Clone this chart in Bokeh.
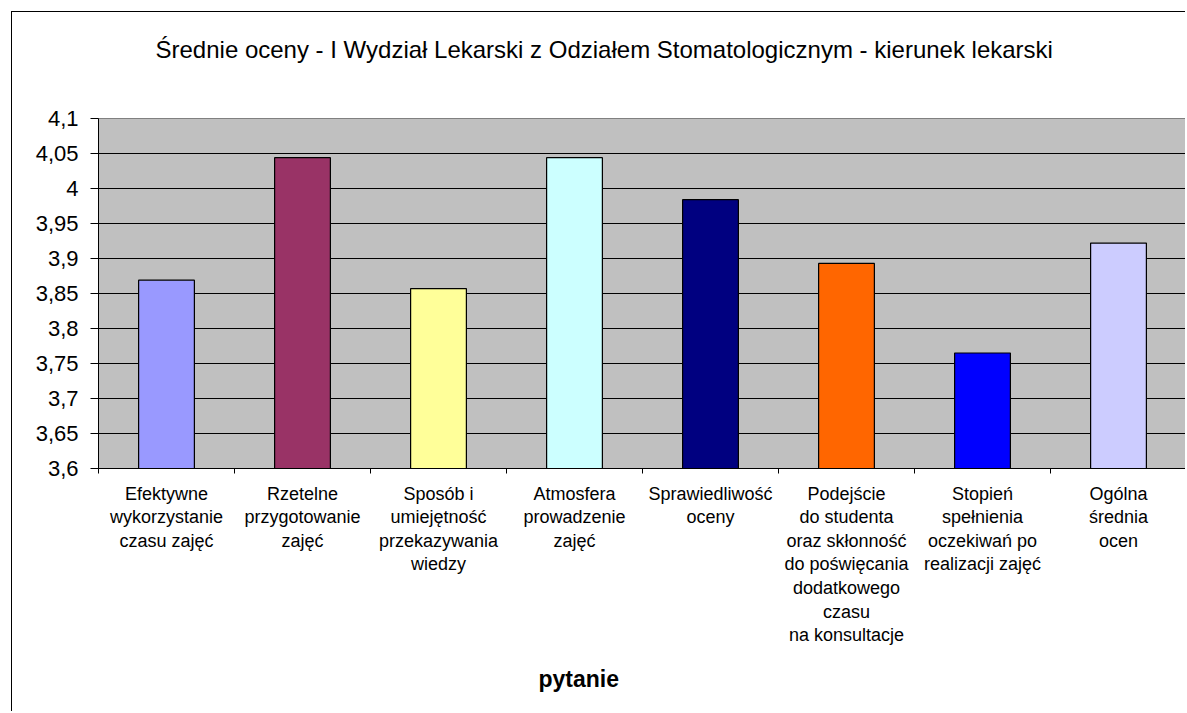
from bokeh.plotting import figure
from bokeh.models import FixedTicker, Title, ColumnDataSource, Range1d
from bokeh.embed import file_html
from bokeh.resources import INLINE

# ---- data ----
categories = [
    "Efektywne\nwykorzystanie\nczasu zajęć",
    "Rzetelne\nprzygotowanie\nzajęć",
    "Sposób i\numiejętność\nprzekazywania\nwiedzy",
    "Atmosfera\nprowadzenie\nzajęć",
    "Sprawiedliwość\noceny",
    "Podejście\ndo studenta\noraz skłonność\ndo poświęcania\ndodatkowego\nczasu\nna konsultacje",
    "Stopień\nspełnienia\noczekiwań po\nrealizacji zajęć",
    "Ogólna\nśrednia\nocen",
]
values = [3.869, 4.044, 3.857, 4.044, 3.984, 3.893, 3.765, 3.922]
colors = ["#9999FF", "#993366", "#FFFF99", "#CCFFFF", "#000080", "#FF6600", "#0000FF", "#CCCCFF"]
y_ticks = [3.6, 3.65, 3.7, 3.75, 3.8, 3.85, 3.9, 3.95, 4.0, 4.05, 4.1]
y_tick_labels = ["3,6", "3,65", "3,7", "3,75", "3,8", "3,85", "3,9", "3,95", "4", "4,05", "4,1"]
title_text = "Średnie oceny - I Wydział Lekarski z Odziałem Stomatologicznym - kierunek lekarski"
x_label = "pytanie"

FONT = "Liberation Sans"
n = len(categories)
xs = [i + 0.5 for i in range(n)]

p = figure(width=1174, height=700,
           x_range=Range1d(0, n), y_range=Range1d(y_ticks[0], y_ticks[-1]),
           output_backend="svg", toolbar_location=None,
           min_border_left=86, min_border_right=0,
           min_border_top=106, min_border_bottom=244)
p.margin = (11, 0, 0, 11)
p.styles = {"border-left": "1px solid black", "border-top": "1px solid black",
            "box-sizing": "border-box"}

p.background_fill_color = "#C0C0C0"
p.border_fill_color = "white"
p.outline_line_color = "#808080"
p.outline_line_width = 1

src = ColumnDataSource(dict(x=xs, top=values, color=colors))
p.vbar(x="x", top="top", bottom=y_ticks[0], width=0.41, source=src,
       fill_color="color", line_color="black", line_width=1.2)

# grid
p.xgrid.visible = False
p.ygrid.ticker = FixedTicker(ticks=y_ticks)
p.ygrid.grid_line_color = "black"
p.ygrid.grid_line_width = 1

# y axis
yax = p.yaxis[0]
yax.ticker = FixedTicker(ticks=y_ticks)
yax.major_label_overrides = {t: l for t, l in zip(y_ticks, y_tick_labels)}
yax.major_label_text_font = FONT
yax.major_label_text_font_size = "22px"
yax.major_label_text_color = "black"
yax.major_tick_out = 8
yax.major_tick_in = 0
yax.minor_tick_line_color = None
yax.major_label_standoff = 12
yax.axis_line_color = "black"

# x axis
xax = p.xaxis[0]
xax.ticker = FixedTicker(ticks=xs, minor_ticks=list(range(0, n + 1)))
xax.major_label_overrides = {x: c for x, c in zip(xs, categories)}
xax.major_label_text_font = FONT
xax.major_label_text_font_size = "18px"
xax.major_label_text_color = "black"
xax.major_label_text_line_height = 1.18
xax.major_tick_line_color = None
xax.minor_tick_in = 0
xax.minor_tick_out = 5
xax.minor_tick_line_color = "black"
xax.major_label_standoff = 9
xax.axis_line_color = "black"

# chart title: a spacer title next to the frame, then the real title above it
p.title.text = ""
p.add_layout(Title(text=" ", standoff=43, text_font=FONT, text_font_size="10px",
                   text_color="white"), "above")
p.add_layout(Title(text=title_text, align="left", offset=57, standoff=0,
                   text_font=FONT, text_font_size="24px", text_font_style="normal",
                   text_color="black"), "above")

# axis title (placed below the tick labels)
p.add_layout(Title(text=x_label, align="left", offset=440, standoff=30,
                   text_font=FONT, text_font_size="23px", text_font_style="bold",
                   text_color="black"), "below")

open("out.html", "w").write(file_html(p, INLINE))
